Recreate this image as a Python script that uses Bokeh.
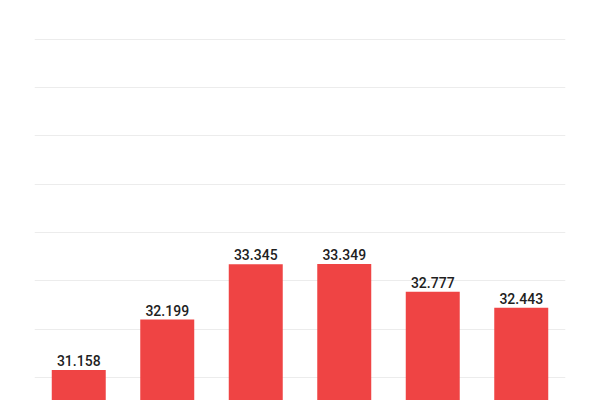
from bokeh.plotting import figure
from bokeh.models import ColumnDataSource, Range1d, FixedTicker
from bokeh.core.properties import value
from bokeh.embed import file_html
from bokeh.resources import INLINE

# --- data
categories = ["1", "2", "3", "4", "5", "6"]
values = [31.158, 32.199, 33.345, 33.349, 32.777, 32.443]
labels = ["31.158", "32.199", "33.345", "33.349", "32.777", "32.443"]
grid_ticks = [31, 32, 33, 34, 35, 36, 37, 38]

BAR_COLOR = "#EF4444"

src = ColumnDataSource(dict(cat=categories, val=values, lbl=labels))

p = figure(x_range=categories, y_range=Range1d(30.524, 38.805),
           width=600, height=400, output_backend="svg", toolbar_location=None,
           min_border_left=34, min_border_right=35, min_border_top=0, min_border_bottom=0)
p.outline_line_color = None
p.background_fill_color = "white"
p.border_fill_color = "white"

p.vbar(x="cat", top="val", bottom=0, width=0.61, source=src,
       fill_color=BAR_COLOR, line_color=None)

p.text(x="cat", y="val", text="lbl", source=src,
       text_align="center", text_baseline="bottom", y_offset=-4,
       text_font=value("'Roboto Medium', Roboto"), text_font_size="14px",
       text_color="#1f1f1f")

# axes hidden, only horizontal grid lines remain
p.yaxis.ticker = FixedTicker(ticks=grid_ticks)
p.xaxis.visible = False
p.yaxis.visible = False
p.xgrid.grid_line_color = None
p.ygrid.grid_line_color = "#ececec"
p.ygrid.grid_line_width = 1

open("out.html", "w").write(file_html(p, INLINE))
